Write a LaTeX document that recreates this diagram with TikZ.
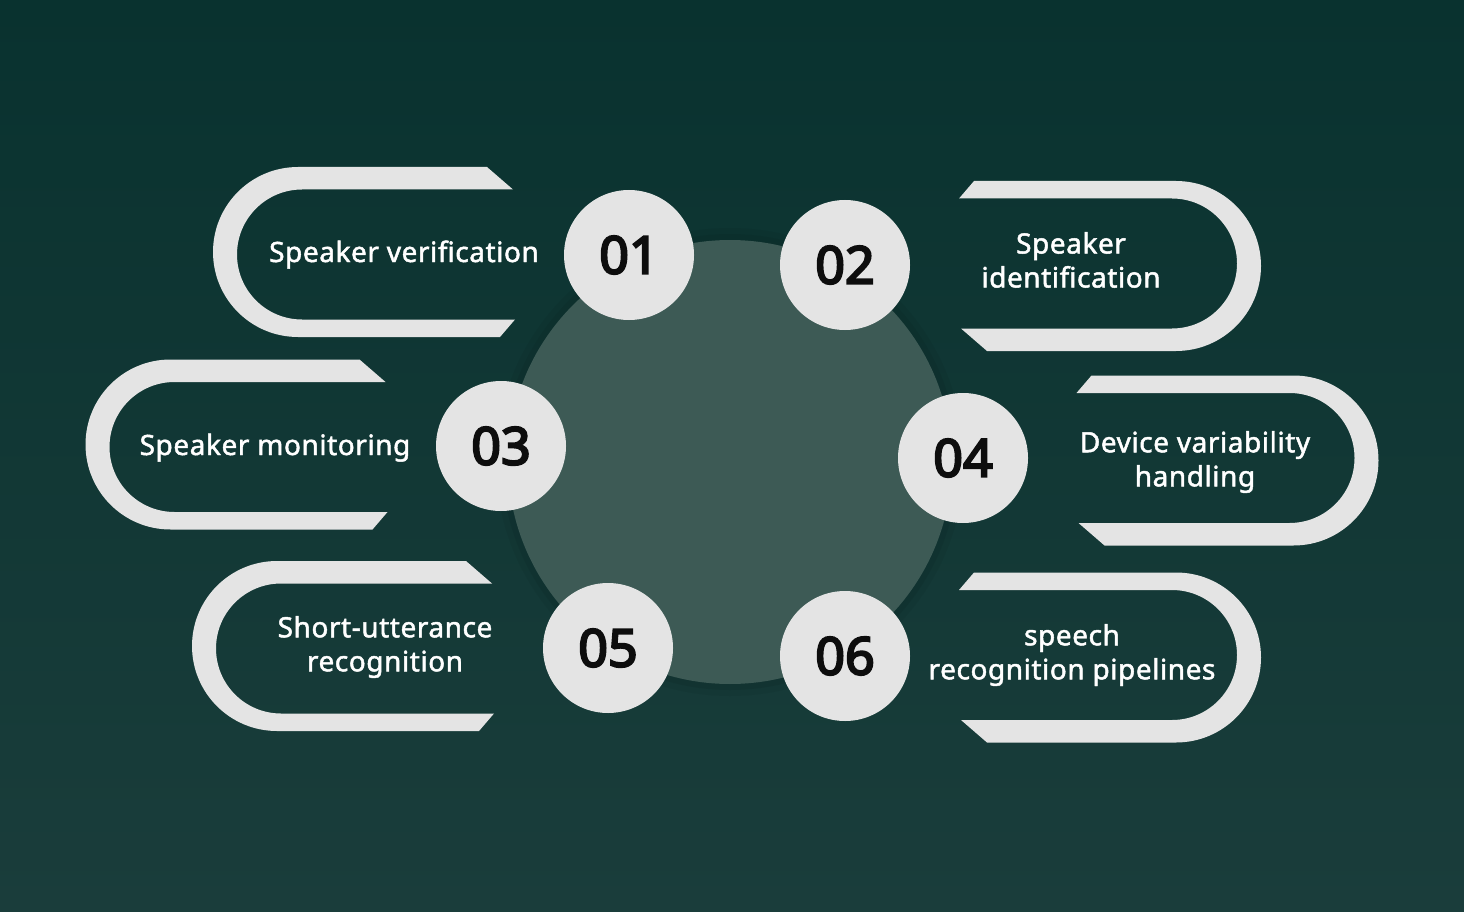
\documentclass[tikz,border=0pt]{standalone}
\usepackage{fontspec}
\setmainfont{Noto Sans}
\newfontfamily\lblfont{Noto Sans}[FakeBold=1.7, LetterSpace=2]
\newfontfamily\numfont{Noto Sans}[FakeBold=4]
\definecolor{bgtop}{HTML}{09322F}
\definecolor{bgbot}{HTML}{1A3D3B}
\definecolor{hub}{HTML}{3D5A55}
\definecolor{pale}{HTML}{E4E4E4}
\definecolor{ink}{HTML}{0D0D0D}
\tikzset{
  numdisc/.style={circle, fill=pale, minimum size=130pt, inner sep=0pt,
    font=\numfont\fontsize{52}{52}\selectfont, text=ink},
  lbl/.style={text=white, font=\lblfont\fontsize{28}{34}\selectfont, align=center},
  band/.style={fill=pale}
}
\newcommand\pillL[2]{\fill[band] ({#1+189},{#2-85}) -- ({#1},{#2-85})
  arc[start angle=270,end angle=90,radius=85] -- ({#1+202},{#2+85})
  -- ({#1+217},{#2+67.5}) -- ({#1+4},{#2+67.5})
  arc[start angle=90,end angle=270,radius=65] -- ({#1+215},{#2-62.5}) -- cycle;}
\newcommand\pillR[2]{\fill[band] ({#1-189},{#2+85}) -- ({#1},{#2+85})
  arc[start angle=90,end angle=-90,radius=85] -- ({#1-202},{#2-85})
  -- ({#1-217},{#2-67.5}) -- ({#1-4},{#2-67.5})
  arc[start angle=-90,end angle=90,radius=65] -- ({#1-215},{#2+62.5}) -- cycle;}
\begin{document}
\begin{tikzpicture}[x=1pt,y=-1pt]
\useasboundingbox (0,0) rectangle (1464,912);
\fill[top color=bgtop, bottom color=bgbot] (0,0) rectangle (1464,912);
% hub
\fill[black, opacity=0.05] (730,462) circle (234);
\fill[black, opacity=0.06] (730,462) circle (228);
\fill[hub] (730,462) circle (222);
% pills
\pillL{298}{252}
\pillL{170.5}{444.5}
\pillL{277}{646}
\pillR{1176}{266}
\pillR{1293.5}{460.5}
\pillR{1176}{657.5}
% labels
\node[lbl, anchor=base] (t1) at (404,262) {Speaker verification};
\node[lbl] (t2) at (1071,260) {Speaker\\identification};
\node[lbl, anchor=base] (t3) at (275,455) {Speaker monitoring};
\node[lbl] (t4) at (1195,462) {Device variability\\handling};
\node[lbl] (t5) at (385,647) {Short-utterance\\recognition};
\node[lbl] (t6) at (1072,655) {speech\\recognition pipelines};
% number discs
\node[numdisc] (n1) at (629,255) {01};
\node[numdisc] (n2) at (845,265) {02};
\node[numdisc] (n3) at (501,446) {03};
\node[numdisc] (n4) at (963,458) {04};
\node[numdisc] (n5) at (608,648) {05};
\node[numdisc] (n6) at (845,656) {06};
\end{tikzpicture}
\end{document}
